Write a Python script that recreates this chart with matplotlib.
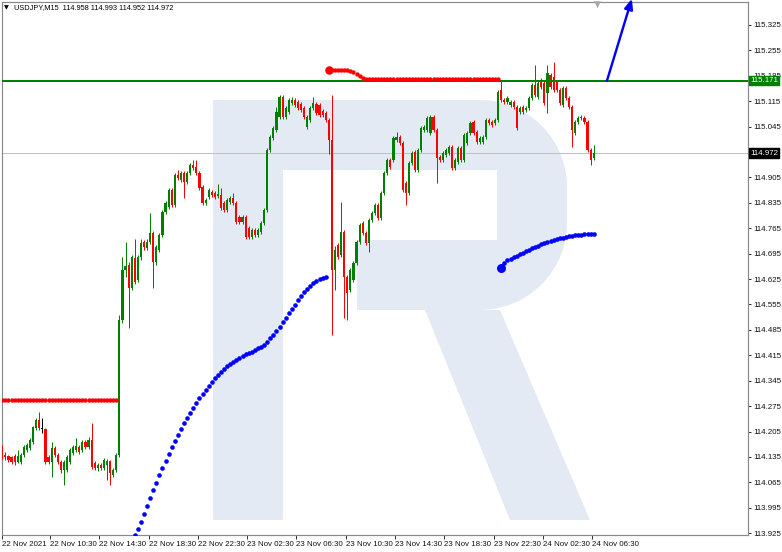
import matplotlib
matplotlib.use("Agg")
import matplotlib.pyplot as plt
import matplotlib.transforms as mtransforms
from matplotlib.patches import Polygon
import numpy as np

# ---------------- data ----------------
symbol = "USDJPY,M15"
last_ohlc = [114.958, 114.993, 114.952, 114.972]

opens = [
    114.162, 114.140, 114.137, 114.134, 114.137, 114.121, 114.121, 114.140, 114.154, 114.159,
    114.176, 114.215, 114.237, 114.212, 114.212, 114.135, 114.121, 114.159, 114.140, 114.121,
    114.099, 114.099, 114.121, 114.146, 114.154, 114.162, 114.154, 114.176, 114.162, 114.182,
    114.118, 114.104, 114.112, 114.104, 114.112, 114.123, 114.085, 114.099, 114.140, 114.512,
    114.650, 114.664, 114.600, 114.683, 114.622, 114.686, 114.727, 114.711, 114.727, 114.752,
    114.672, 114.705, 114.746, 114.810, 114.824, 114.870, 114.829, 114.912, 114.898, 114.917,
    114.892, 114.917, 114.939, 114.934, 114.917, 114.879, 114.835, 114.851, 114.865, 114.862,
    114.854, 114.857, 114.835, 114.815, 114.837, 114.848, 114.835, 114.796, 114.782, 114.796,
    114.766, 114.741, 114.760, 114.746, 114.755, 114.779, 114.815, 114.981, 115.014, 115.036,
    115.071, 115.127, 115.071, 115.085, 115.110, 115.118, 115.113, 115.107, 115.096, 115.044,
    115.063, 115.096, 115.107, 115.105, 115.088, 115.083, 115.063, 115.008, 114.650, 114.719,
    114.691, 114.755, 114.631, 114.595, 114.622, 114.669, 114.727, 114.779, 114.752, 114.724,
    114.788, 114.807, 114.829, 114.793, 114.862, 114.917, 114.953, 114.953, 115.008, 115.016,
    115.000, 114.890, 114.862, 114.945, 114.975, 114.925, 114.981, 115.036, 115.036, 115.027,
    115.071, 115.036, 114.961, 114.953, 114.967, 114.972, 114.989, 114.931, 114.947, 114.986,
    114.953, 115.000, 115.027, 115.058, 115.030, 115.003, 115.003, 115.016, 115.063, 115.058,
    115.055, 115.063, 115.146, 115.118, 115.113, 115.105, 115.113, 115.099, 115.085, 115.099,
    115.091, 115.096, 115.124, 115.160, 115.127, 115.173, 115.165, 115.138, 115.187, 115.182,
    115.168, 115.146, 115.105, 115.151, 115.124, 115.099, 115.027, 115.058, 115.069, 115.069,
    115.058, 114.981, 114.958,
]
highs = [
    114.168, 114.148, 114.140, 114.137, 114.143, 114.154, 114.146, 114.168, 114.173, 114.187,
    114.220, 114.242, 114.259, 114.242, 114.215, 114.140, 114.176, 114.165, 114.146, 114.126,
    114.126, 114.140, 114.159, 114.168, 114.187, 114.168, 114.182, 114.182, 114.190, 114.228,
    114.123, 114.118, 114.118, 114.132, 114.129, 114.126, 114.104, 114.146, 114.526, 114.686,
    114.727, 114.672, 114.691, 114.735, 114.691, 114.735, 114.733, 114.735, 114.807, 114.757,
    114.719, 114.752, 114.815, 114.840, 114.876, 114.876, 114.917, 114.925, 114.922, 114.922,
    114.922, 114.945, 114.953, 114.953, 114.922, 114.884, 114.848, 114.876, 114.870, 114.867,
    114.887, 114.876, 114.840, 114.848, 114.854, 114.862, 114.840, 114.801, 114.801, 114.801,
    114.771, 114.766, 114.766, 114.766, 114.785, 114.821, 114.986, 115.022, 115.047, 115.099,
    115.132, 115.132, 115.102, 115.124, 115.127, 115.124, 115.118, 115.113, 115.102, 115.077,
    115.102, 115.127, 115.113, 115.110, 115.094, 115.088, 115.069, 115.132, 114.716, 114.724,
    114.837, 114.760, 114.636, 114.655, 114.675, 114.733, 114.779, 114.785, 114.757, 114.793,
    114.812, 114.835, 114.835, 114.868, 114.922, 114.958, 114.958, 115.019, 115.030, 115.022,
    115.005, 114.895, 114.950, 114.978, 114.981, 114.986, 115.047, 115.050, 115.074, 115.077,
    115.077, 115.041, 114.967, 114.978, 114.986, 114.994, 114.994, 114.958, 114.992, 114.992,
    115.027, 115.033, 115.060, 115.063, 115.036, 115.019, 115.022, 115.069, 115.069, 115.063,
    115.069, 115.146, 115.173, 115.124, 115.130, 115.118, 115.118, 115.105, 115.102, 115.105,
    115.102, 115.130, 115.165, 115.215, 115.171, 115.179, 115.171, 115.215, 115.193, 115.223,
    115.173, 115.151, 115.157, 115.157, 115.130, 115.105, 115.063, 115.074, 115.077, 115.074,
    115.063, 114.986, 114.993,
]
lows = [
    114.128, 114.126, 114.121, 114.115, 114.112, 114.118, 114.115, 114.134, 114.148, 114.154,
    114.170, 114.210, 114.210, 114.201, 114.115, 114.115, 114.079, 114.135, 114.115, 114.090,
    114.057, 114.093, 114.115, 114.140, 114.148, 114.143, 114.148, 114.157, 114.157, 114.101,
    114.099, 114.096, 114.099, 114.099, 114.071, 114.057, 114.079, 114.093, 114.134, 114.504,
    114.631, 114.490, 114.595, 114.611, 114.617, 114.677, 114.705, 114.705, 114.722, 114.600,
    114.664, 114.700, 114.741, 114.804, 114.818, 114.824, 114.824, 114.898, 114.892, 114.848,
    114.887, 114.912, 114.925, 114.912, 114.870, 114.829, 114.829, 114.846, 114.851, 114.846,
    114.848, 114.815, 114.810, 114.810, 114.832, 114.829, 114.777, 114.777, 114.777, 114.735,
    114.735, 114.735, 114.741, 114.741, 114.749, 114.774, 114.810, 114.975, 115.008, 115.030,
    115.066, 115.066, 115.066, 115.080, 115.105, 115.099, 115.091, 115.085, 115.066, 115.038,
    115.058, 115.091, 115.077, 115.071, 115.071, 115.058, 114.970, 114.471, 114.595, 114.680,
    114.686, 114.518, 114.512, 114.589, 114.617, 114.664, 114.722, 114.746, 114.719, 114.700,
    114.782, 114.801, 114.788, 114.788, 114.857, 114.912, 114.928, 114.947, 115.003, 114.994,
    114.865, 114.829, 114.857, 114.939, 114.920, 114.920, 114.975, 115.030, 115.030, 115.022,
    115.030, 114.890, 114.947, 114.947, 114.961, 114.967, 114.925, 114.925, 114.942, 114.947,
    114.947, 114.994, 115.022, 115.022, 114.997, 114.997, 114.997, 115.011, 115.049, 115.044,
    115.049, 115.058, 115.113, 115.107, 115.107, 115.099, 115.094, 115.036, 115.080, 115.080,
    115.085, 115.091, 115.118, 115.127, 115.121, 115.149, 115.105, 115.083, 115.149, 115.140,
    115.140, 115.105, 115.099, 115.118, 115.094, 114.989, 115.022, 115.052, 115.063, 115.052,
    114.975, 114.939, 114.952,
]
closes = [
    114.134, 114.134, 114.126, 114.121, 114.121, 114.137, 114.140, 114.162, 114.168, 114.182,
    114.217, 114.237, 114.215, 114.212, 114.121, 114.121, 114.159, 114.140, 114.121, 114.099,
    114.121, 114.135, 114.154, 114.162, 114.165, 114.148, 114.176, 114.162, 114.182, 114.107,
    114.104, 114.112, 114.104, 114.126, 114.123, 114.090, 114.099, 114.140, 114.512, 114.650,
    114.661, 114.600, 114.686, 114.617, 114.686, 114.724, 114.713, 114.727, 114.752, 114.672,
    114.713, 114.746, 114.810, 114.835, 114.870, 114.829, 114.912, 114.903, 114.917, 114.892,
    114.917, 114.939, 114.931, 114.917, 114.876, 114.835, 114.843, 114.870, 114.857, 114.851,
    114.859, 114.821, 114.815, 114.843, 114.848, 114.835, 114.782, 114.782, 114.796, 114.741,
    114.741, 114.760, 114.746, 114.760, 114.779, 114.815, 114.981, 115.016, 115.041, 115.085,
    115.127, 115.071, 115.096, 115.118, 115.118, 115.105, 115.096, 115.091, 115.071, 115.071,
    115.096, 115.110, 115.083, 115.077, 115.077, 115.063, 115.008, 114.650, 114.705, 114.686,
    114.755, 114.631, 114.586, 114.650, 114.669, 114.727, 114.774, 114.752, 114.724, 114.788,
    114.807, 114.829, 114.793, 114.862, 114.917, 114.953, 114.934, 115.014, 115.016, 115.000,
    114.870, 114.862, 114.945, 114.972, 114.925, 114.981, 115.041, 115.044, 115.069, 115.071,
    115.036, 114.958, 114.953, 114.972, 114.981, 114.989, 114.931, 114.953, 114.986, 114.953,
    115.022, 115.027, 115.055, 115.027, 115.003, 115.014, 115.016, 115.063, 115.055, 115.049,
    115.063, 115.140, 115.118, 115.113, 115.124, 115.113, 115.099, 115.041, 115.096, 115.085,
    115.096, 115.124, 115.160, 115.132, 115.165, 115.154, 115.110, 115.193, 115.154, 115.146,
    115.146, 115.110, 115.151, 115.124, 115.099, 115.036, 115.058, 115.069, 115.071, 115.058,
    114.981, 114.953, 114.972,
]

# dotted trend curves (first bar index + one value per bar)
curve_a_start = 43
curve_a = [
    113.920, 113.936, 113.955, 113.977, 113.999, 114.021, 114.043, 114.063, 114.085, 114.104,
    114.123, 114.143, 114.162, 114.179, 114.195, 114.212, 114.228, 114.242, 114.256, 114.270,
    114.283, 114.297, 114.308, 114.319, 114.330, 114.341, 114.352, 114.361, 114.369, 114.377,
    114.385, 114.391, 114.396, 114.402, 114.407, 114.413, 114.418, 114.421, 114.424, 114.429,
    114.435, 114.438, 114.443, 114.451, 114.463, 114.471, 114.482, 114.493, 114.507, 114.518,
    114.531, 114.542, 114.553, 114.567, 114.578, 114.589, 114.597, 114.606, 114.614, 114.620,
    114.625, 114.628, 114.631,
]
curve_b_start = 162
curve_b = [
    114.655, 114.669, 114.677, 114.680, 114.686, 114.688, 114.694, 114.697, 114.702, 114.705,
    114.711, 114.713, 114.716, 114.722, 114.724, 114.727, 114.730, 114.733, 114.735, 114.738,
    114.738, 114.741, 114.744, 114.744, 114.746, 114.746, 114.746, 114.749, 114.749, 114.749,
    114.749,
]

# red dotted levels
level_low_bars = (0, 37)
level_low = 114.292
level_high_start = 106
level_high = [
    115.201, 115.201, 115.201, 115.201, 115.201, 115.201, 115.201, 115.198, 115.194, 115.189,
    115.184, 115.180, 115.177, 115.176, 115.176, 115.176, 115.176, 115.176, 115.176, 115.176,
    115.176, 115.176, 115.176, 115.176, 115.176, 115.176, 115.176, 115.176, 115.176, 115.176,
    115.176, 115.176, 115.176, 115.176, 115.176, 115.176, 115.176, 115.176, 115.176, 115.176,
    115.176, 115.176, 115.176, 115.176, 115.176, 115.176, 115.176, 115.176, 115.176, 115.176,
    115.176, 115.176, 115.176, 115.176, 115.176, 115.176,
]

breakout_level = 115.171
current_price = 114.972
arrow_from = (196.3, 115.171)
arrow_to = (204.4, 115.397)

price_ticks = [113.925, 113.995, 114.065, 114.135, 114.205, 114.275, 114.345, 114.415,
               114.485, 114.555, 114.625, 114.695, 114.765, 114.835, 114.905, 114.975,
               115.045, 115.115, 115.185, 115.255, 115.325]
time_labels = ["22 Nov 2021", "22 Nov 10:30", "22 Nov 14:30", "22 Nov 18:30", "22 Nov 22:30",
               "23 Nov 02:30", "23 Nov 06:30", "23 Nov 10:30", "23 Nov 14:30", "23 Nov 18:30",
               "23 Nov 22:30", "24 Nov 02:30", "24 Nov 06:30"]

# ---------------- figure ----------------
W, H = 782, 552
fig = plt.figure(figsize=(W / 100, H / 100), dpi=100)
fig.patch.set_facecolor("white")
ax = fig.add_axes([2 / W, (H - 535) / H, 746 / W, 533 / H])
ax.set_xlim(-0.1, 242.1)
ax.set_ylim(113.920, 115.388)
ax.set_facecolor("white")

PX = 0.72  # points per pixel at 100 dpi
FONT = "Liberation Sans"


def ax_frac(px, py):
    return ((px - 2) / 746, (535 - py) / 533)


def arc(cx, cy, r, a0, a1, n=16):
    t = np.radians(np.linspace(a0, a1, n))
    return [(cx + r * np.cos(a), cy - r * np.sin(a)) for a in t]


# watermark logo (pale "R") in axes space
wm_color = "#e4eaf3"
bowl = ([(283, 100), (480, 100)] + arc(480, 187, 87, 90, 0) + arc(480, 223, 87, 0, -90)
        + [(357, 310), (357, 240), (497, 240), (497, 170), (283, 170)])
wm_pieces = [
    [(213, 100), (283, 100), (283, 520), (213, 520)],
    bowl,
    [(425, 310), (500, 310), (590, 520), (510, 520)],
]
for pts in wm_pieces:
    ax.add_patch(Polygon([ax_frac(x, y) for x, y in pts], closed=True, transform=ax.transAxes,
                         facecolor=wm_color, edgecolor="none", zorder=0))

o = np.array(opens)
h = np.array(highs)
l = np.array(lows)
c = np.array(closes)
xi = np.arange(len(o))
cols = np.where(c > o, "#008000", np.where(c < o, "#ff0000", "#000000"))

# horizontal guides
ax.axhline(current_price, color="#c0c0c0", lw=1 * PX, zorder=1)
ax.axhline(breakout_level, color="#008000", lw=2 * PX, zorder=4)

# candles
ax.vlines(xi, l, h, colors=cols, lw=1 * PX, zorder=3)
body_lo = np.minimum(o, c)
body_h = np.maximum(np.abs(c - o), 0.0025)
ax.bar(xi, body_h, bottom=body_lo, width=0.7, color=cols, linewidth=0, zorder=3)

# red dotted levels
lx = np.arange(level_low_bars[0], level_low_bars[1] + 1)
ax.plot(lx, np.full(len(lx), level_low), "o", color="#ff0000", ms=4.4 * PX, mew=0, zorder=5)
hx = np.arange(level_high_start, level_high_start + len(level_high))
ax.plot(hx, level_high, "o", color="#ff0000", ms=4.4 * PX, mew=0, zorder=5)
ax.plot(hx[0], level_high[0], "o", color="#ff0000", ms=8.5 * PX, mew=0, zorder=5)

# blue dotted curves
cax = np.arange(curve_a_start, curve_a_start + len(curve_a))
ax.plot(cax, curve_a, "o", color="#0000ff", ms=4.6 * PX, mew=0, zorder=5)
cbx = np.arange(curve_b_start, curve_b_start + len(curve_b))
ax.plot(cbx, curve_b, "o", color="#0000ff", ms=4.6 * PX, mew=0, zorder=5)
ax.plot(cbx[0], curve_b[0], "o", color="#0000ff", ms=9 * PX, mew=0, zorder=5)

# forecast arrow
ax.annotate("", xy=arrow_to, xytext=arrow_from, annotation_clip=False,
            arrowprops=dict(arrowstyle="-|>,head_length=0.6,head_width=0.25",
                            color="#0000ff", lw=2.4 * PX, shrinkA=0, shrinkB=0),
            zorder=6)

# frame
for side in ["left", "top", "bottom", "right"]:
    ax.spines[side].set_color("#8a8a8a")
    ax.spines[side].set_linewidth(1.2 * PX)

# price axis on the right (the tick under the current-price tag carries no label)
ax.yaxis.tick_right()
ax.set_yticks(price_ticks)
ax.set_yticklabels(["" if abs(v - current_price) < 0.02 else f"{v:.3f}" for v in price_ticks],
                   fontsize=5.7, family=FONT)
ax.tick_params(axis="y", direction="out", length=3 * PX, width=1 * PX, pad=1.5,
               color="#333333", labelcolor="#111111")

# time axis
tpos = [-0.1] + [15.5 + 16 * k for k in range(len(time_labels) - 1)]
ax.set_xticks(tpos)
ax.set_xticklabels(time_labels, fontsize=5.7, family=FONT)
for t in ax.get_xticklabels():
    t.set_ha("left")
ax.tick_params(axis="x", direction="out", length=4 * PX, width=1 * PX, pad=1.5,
               color="#333333", labelcolor="#111111")

# price tags on the axis
ytr = mtransforms.blended_transform_factory(ax.transAxes, ax.transData)
ax.text(1.0 + 2 / 746, breakout_level, f"{breakout_level:.3f}", transform=ytr, fontsize=5.7,
        family=FONT, color="white", va="center", ha="left", clip_on=False, zorder=10,
        bbox=dict(boxstyle="square,pad=0.15", fc="#008000", ec="#008000"))
ax.text(1.0 + 2 / 746, current_price, f"{current_price:.3f}", transform=ytr, fontsize=5.7,
        family=FONT, color="white", va="center", ha="left", clip_on=False, zorder=10,
        bbox=dict(boxstyle="square,pad=0.15", fc="#000000", ec="#000000"))

# header line
fig.text(4 / W, 1 - 8 / H, "\u25bc", fontsize=4.5, color="#000000", va="center", ha="left")
fig.text(14 / W, 1 - 8 / H, symbol + "  " + " ".join(f"{v:.3f}" for v in last_ohlc),
         fontsize=5.3, family=FONT, color="#000000", va="center", ha="left")
# chart-shift marker
fig.text(597 / W, 1 - 4 / H, "\u25bc", fontsize=6.5, color="#a8a8a8", va="center", ha="center")

fig.savefig("out.png", dpi=100, facecolor="white")
